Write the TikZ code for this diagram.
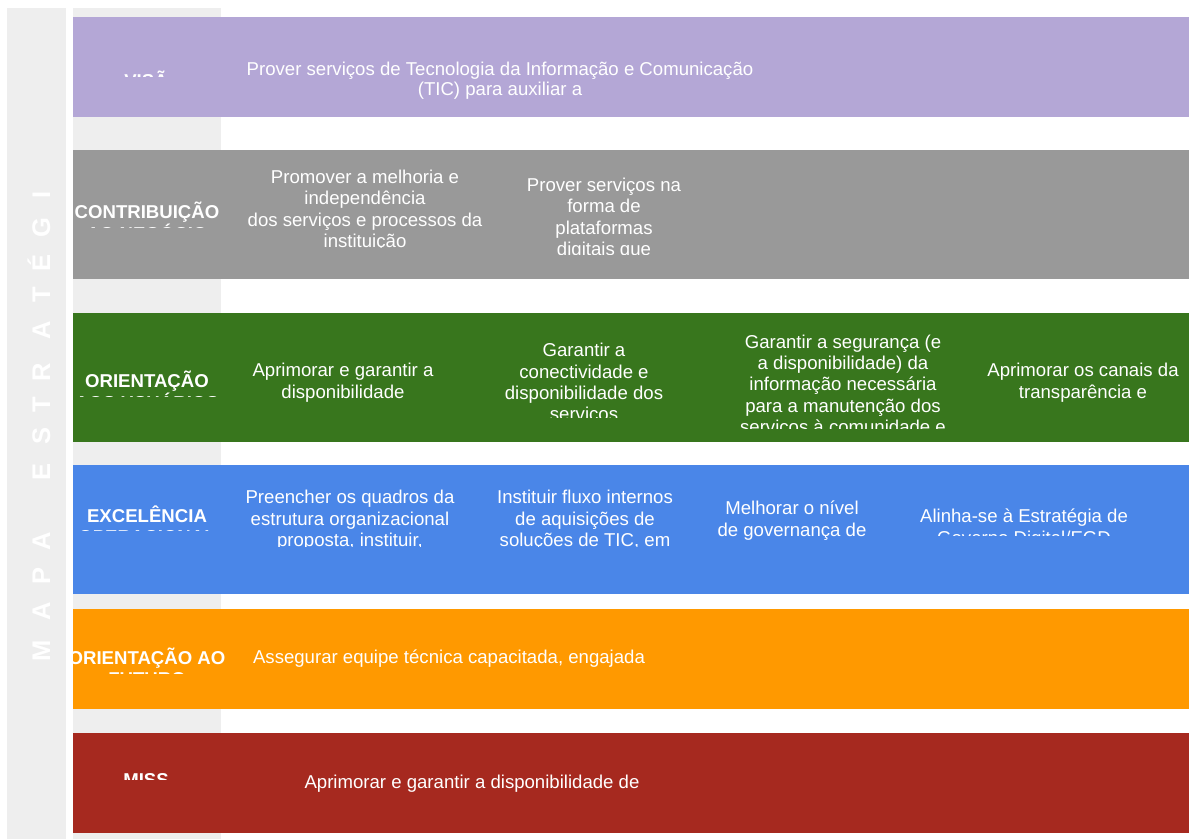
\documentclass[tikz,border=0pt]{standalone}
\usepackage{fontspec}
\setmainfont{Liberation Sans}
\usetikzlibrary{positioning}

\definecolor{sidecol}{HTML}{EEEEEE}
\definecolor{visaocol}{HTML}{B4A7D6}
\definecolor{contribcol}{HTML}{999999}
\definecolor{usuarioscol}{HTML}{38761D}
\definecolor{excelcol}{HTML}{4A86E8}
\definecolor{futurocol}{HTML}{FF9900}
\definecolor{missaocol}{HTML}{A6291F}

\begin{document}
\begin{tikzpicture}[
    x=1pt, y=-1pt,
    lbl/.style={font=\fontsize{18.6}{21.4}\selectfont\bfseries, text=white, align=center, inner sep=0pt, anchor=north, execute at begin node=\strut},
    txt/.style={font=\fontsize{18.6}{21.4}\selectfont, text=white, align=center, inner sep=0pt, anchor=north, execute at begin node=\strut},
    letter/.style={font=\fontsize{25.5}{30}\selectfont\bfseries, text=white, rotate=90, anchor=base, inner sep=0pt}
]
\useasboundingbox (0,0) rectangle (1189,839);
\fill[white] (0,0) rectangle (1189,839);

% Side bar and label column
\fill[sidecol] (7,8) rectangle (66,839);
\fill[sidecol] (73,8) rectangle (221,839);

% Vertical title
\foreach \ch/\yy [count=\i] in {M/651, A/611, P/576, A/541, E/472, S/436, T/405, R/372, A/330, T/295, É/263, G/228, I/195}
    \node[letter] (ltr-\i) at (50,\yy) {\ch};

% Bands
\fill[visaocol] (73,17) rectangle (1189,117);
\fill[contribcol] (73,150) rectangle (1189,279);
\fill[usuarioscol] (73,313) rectangle (1189,442);
\fill[excelcol] (73,465) rectangle (1189,594);
\fill[futurocol] (73,609) rectangle (1189,709);
\fill[missaocol] (73,733) rectangle (1189,833);

% Visao
\begin{scope}
\clip (73,17) rectangle (221,76);
\node[lbl] (visao-lbl) at (146,70.3) {VISÃ\\O};
\end{scope}
\node[txt, font=\fontsize{18.6}{19.6}\selectfont] (visao-t1) at (500,62.3)
    {Prover serviços de Tecnologia da Informação e Comunicação\\(TIC) para auxiliar a};

% Contribuicao ao negocio
\begin{scope}
\clip (73,150) rectangle (235,227);
\node[lbl] (contrib-lbl) at (147,202) {CONTRIBUIÇÃO\\AO NEGÓCIO};
\end{scope}
\begin{scope}
\clip (235,150) rectangle (495,247.5);
\node[txt] (contrib-t1) at (365,169.8)
    {Promover a melhoria e\\independência\\dos serviços e processos da\\instituição};
\end{scope}
\begin{scope}
\clip (495,150) rectangle (715,254.5);
\node[txt] (contrib-t2) at (604,177.8)
    {Prover serviços na\\forma de\\plataformas\\digitais que};
\end{scope}

% Orientacao aos usuarios
\begin{scope}
\clip (73,313) rectangle (235,396);
\node[lbl] (usuarios-lbl) at (147,371) {ORIENTAÇÃO\\AOS USUÁRIOS};
\end{scope}
\node[txt] (usuarios-t1) at (343,363) {Aprimorar e garantir a\\disponibilidade};
\begin{scope}
\clip (480,313) rectangle (700,417.5);
\node[txt] (usuarios-t2) at (584,343)
    {Garantir a\\conectividade e\\disponibilidade dos\\serviços};
\end{scope}
\begin{scope}
\clip (720,313) rectangle (965,428);
\node[txt] (usuarios-t3) at (843,334.5)
    {Garantir a segurança (e\\a disponibilidade) da\\informação necessária\\para a manutenção dos\\serviços à comunidade e};
\end{scope}
\node[txt] (usuarios-t4) at (1083,363) {Aprimorar os canais da\\transparência e};

% Excelencia operacional
\begin{scope}
\clip (73,465) rectangle (235,530);
\node[lbl] (excel-lbl) at (147,505.7) {EXCELÊNCIA\\OPERACIONAL};
\end{scope}
\begin{scope}
\clip (235,465) rectangle (470,546.5);
\node[txt] (excel-t1) at (350,490)
    {Preencher os quadros da\\estrutura organizacional\\proposta, instituir,};
\end{scope}
\begin{scope}
\clip (480,465) rectangle (700,546.5);
\node[txt] (excel-t2) at (585,490)
    {Instituir fluxo internos\\de aquisições de\\soluções de TIC, em};
\end{scope}
\node[txt] (excel-t3) at (792,501) {Melhorar o nível\\de governança de};
\begin{scope}
\clip (900,465) rectangle (1150,535.5);
\node[txt] (excel-t4) at (1024,509)
    {Alinha-se à Estratégia de\\Governo Digital/EGD};
\end{scope}

% Orientacao ao futuro
\begin{scope}
\clip (73,609) rectangle (240,673);
\node[lbl] (futuro-lbl) at (147,647.7) {ORIENTAÇÃO AO\\FUTURO};
\end{scope}
\node[txt] (futuro-t1) at (449,648) {Assegurar equipe técnica capacitada, engajada};

% Missao
\begin{scope}
\clip (73,733) rectangle (221,779);
\node[lbl] (missao-lbl) at (146,773.3) {MISS\\ÃO};
\end{scope}
\node[txt] (missao-t1) at (472,773) {Aprimorar e garantir a disponibilidade de};

\end{tikzpicture}
\end{document}
